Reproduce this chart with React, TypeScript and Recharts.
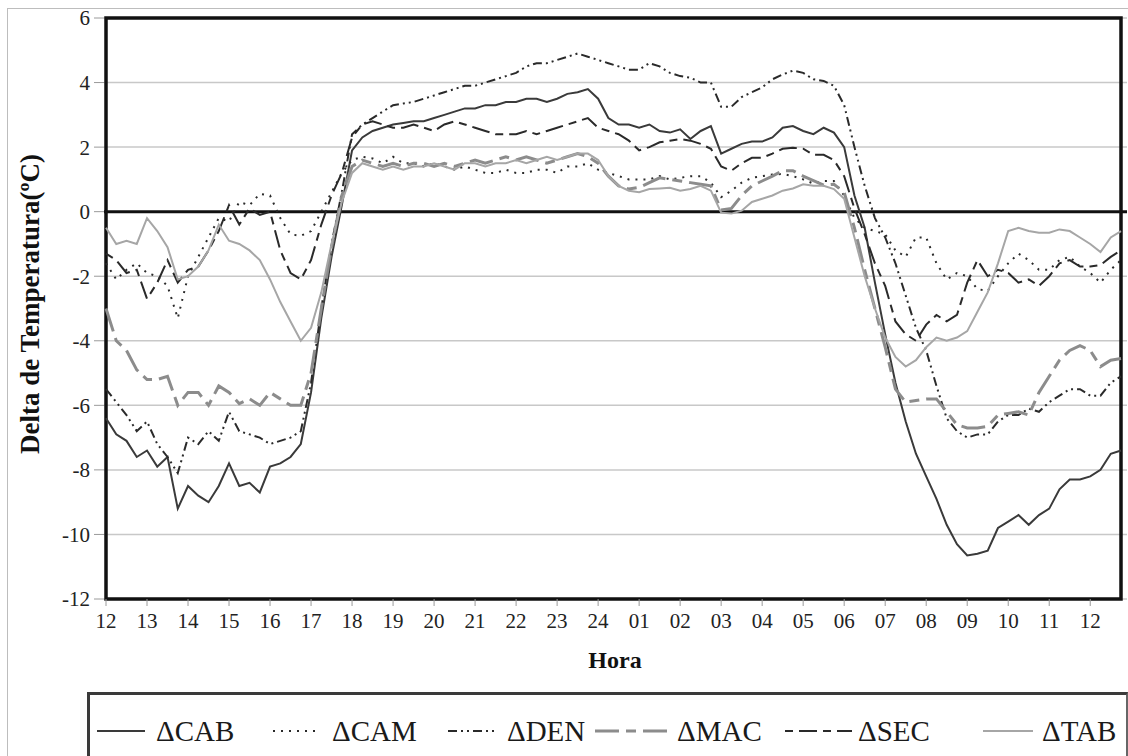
import React from 'react';
import {
  LineChart,
  Line,
  XAxis,
  YAxis,
  CartesianGrid,
  ReferenceLine,
  ReferenceArea,
} from 'recharts';

// hour tick labels (12h -> 12h next day) and quarter-hour steps
const hourLabels = ['12', '13', '14', '15', '16', '17', '18', '19', '20', '21', '22', '23', '24',
  '01', '02', '03', '04', '05', '06', '07', '08', '09', '10', '11', '12'];
const quarters = ['00', '15', '30', '45'];

const cab = [
  -6.4, -6.9, -7.1, -7.6, -7.4, -7.9, -7.6, -9.2, -8.5, -8.8, -9.0, -8.5, -7.8, -8.5, -8.4, -8.7, -7.9, -7.8, -7.6, -7.2, -5.6, -3.3, -1.4, 0.2,
  1.9, 2.3, 2.5, 2.6, 2.7, 2.75, 2.8, 2.8, 2.9, 3.0, 3.1, 3.2, 3.2, 3.3, 3.3, 3.4, 3.4, 3.5, 3.5, 3.4, 3.5, 3.65, 3.7, 3.8, 3.5, 2.9, 2.7, 2.7,
  2.6, 2.7, 2.5, 2.45, 2.55, 2.25, 2.5, 2.65, 1.8, 1.95, 2.1, 2.17, 2.17, 2.3, 2.6, 2.65, 2.5, 2.4, 2.6, 2.45,
  2.0, 0.5, -0.5, -2.2, -3.8, -5.3, -6.5, -7.5, -8.2, -8.9, -9.7, -10.3, -10.65, -10.6, -10.5, -9.8, -9.6, -9.4, -9.7, -9.4, -9.2, -8.6, -8.3, -8.3, -8.2, -8.0, -7.5, -7.4,
];
const cam = [
  -1.6, -2.1, -1.8, -1.6, -1.9, -2.0, -2.3, -3.3, -2.0, -1.4, -0.8, -0.2, -0.3, 0.3, 0.2, 0.55, 0.5, -0.2, -0.7, -0.75, -0.6, 0.0, 0.6, 1.2,
  1.6, 1.7, 1.65, 1.5, 1.7, 1.5, 1.5, 1.4, 1.5, 1.4, 1.3, 1.4, 1.3, 1.2, 1.2, 1.3, 1.2, 1.2, 1.3, 1.3, 1.2, 1.4, 1.4, 1.5, 1.3, 1.2, 1.1, 1.0,
  1.0, 1.0, 1.1, 1.0, 1.05, 1.1, 1.1, 0.9, 0.45, 0.65, 0.9, 1.05, 1.1, 1.15, 1.17, 1.1, 1.0, 0.87, 0.95, 0.95,
  0.5, -0.2, -0.5, -0.6, -0.7, -1.2, -1.4, -0.8, -0.8, -1.6, -2.1, -1.9, -2.0, -2.4, -2.45, -2.0, -1.6, -1.3, -1.5, -1.8, -1.8, -1.5, -1.4, -1.7, -1.9, -2.2, -1.8, -1.5,
];
const den = [
  -5.5, -5.9, -6.3, -6.8, -6.5, -7.2, -7.6, -8.1, -7.0, -7.2, -6.8, -7.1, -6.2, -6.8, -6.9, -7.0, -7.2, -7.1, -7.0, -6.8, -5.3, -3.0, -1.0, 0.6,
  2.4, 2.7, 2.9, 3.1, 3.3, 3.35, 3.4, 3.5, 3.6, 3.7, 3.8, 3.9, 3.9, 4.0, 4.1, 4.2, 4.3, 4.5, 4.6, 4.6, 4.7, 4.8, 4.9, 4.8, 4.7, 4.6, 4.5, 4.4,
  4.4, 4.6, 4.5, 4.3, 4.2, 4.15, 4.0, 4.0, 3.25, 3.25, 3.55, 3.7, 3.85, 4.1, 4.25, 4.37, 4.3, 4.1, 4.05, 3.9,
  3.3, 2.0, 0.8, -0.2, -0.8, -1.6, -2.6, -3.6, -4.3, -5.4, -6.4, -6.8, -7.0, -6.9, -6.9, -6.5, -6.3, -6.3, -6.1, -6.2, -5.9, -5.7, -5.5, -5.5, -5.7, -5.7, -5.3, -5.1,
];
const mac = [
  -3.0, -4.0, -4.3, -4.9, -5.2, -5.2, -5.1, -6.0, -5.6, -5.6, -6.0, -5.4, -5.6, -5.95, -5.8, -6.0, -5.6, -5.8, -6.0, -6.0, -5.0, -3.0, -1.1, 0.5,
  1.4, 1.6, 1.5, 1.4, 1.5, 1.4, 1.5, 1.5, 1.4, 1.5, 1.4, 1.5, 1.6, 1.5, 1.6, 1.7, 1.6, 1.7, 1.6, 1.5, 1.6, 1.7, 1.8, 1.7, 1.5, 1.1, 0.8, 0.7,
  0.75, 0.9, 1.05, 1.0, 0.95, 0.9, 0.85, 0.8, 0.05, 0.1, 0.5, 0.8, 0.95, 1.1, 1.27, 1.27, 1.1, 0.96, 0.82, 0.85,
  0.6, -0.5, -1.8, -3.0, -4.2, -5.5, -5.9, -5.85, -5.8, -5.8, -6.2, -6.6, -6.7, -6.7, -6.65, -6.3, -6.25, -6.2, -6.3, -5.6, -5.1, -4.6, -4.3, -4.15, -4.3, -4.8, -4.6, -4.55,
];
const sec = [
  -1.3, -1.5, -1.9, -1.8, -2.7, -2.2, -1.5, -2.2, -1.8, -1.7, -1.2, -0.6, 0.2, -0.4, 0.1, -0.1, 0.0, -1.2, -1.9, -2.1, -1.5, -0.4, 0.5, 1.2,
  2.3, 2.7, 2.8, 2.7, 2.6, 2.6, 2.7, 2.6, 2.5, 2.7, 2.8, 2.7, 2.6, 2.5, 2.4, 2.4, 2.4, 2.5, 2.4, 2.5, 2.6, 2.7, 2.8, 2.9, 2.6, 2.5, 2.4, 2.2,
  1.9, 2.0, 2.15, 2.2, 2.25, 2.2, 2.1, 1.95, 1.4, 1.27, 1.5, 1.67, 1.67, 1.8, 1.95, 1.98, 1.95, 1.76, 1.76, 1.6,
  1.1, 0.1, -0.7, -1.6, -2.3, -3.4, -3.8, -4.0, -3.5, -3.2, -3.4, -3.2, -2.2, -1.5, -2.0, -1.8, -1.9, -2.2, -2.1, -2.3, -2.0, -1.6, -1.5, -1.7, -1.7, -1.65, -1.4, -1.2,
];
const tab = [
  -0.5, -1.0, -0.9, -1.0, -0.2, -0.6, -1.1, -2.1, -2.0, -1.7, -1.2, -0.4, -0.9, -1.0, -1.2, -1.5, -2.1, -2.8, -3.4, -4.0, -3.6, -2.5, -1.0, 0.3,
  1.2, 1.5, 1.4, 1.3, 1.4, 1.3, 1.4, 1.4, 1.5, 1.4, 1.3, 1.5, 1.5, 1.4, 1.5, 1.5, 1.6, 1.5, 1.6, 1.7, 1.6, 1.7, 1.8, 1.8, 1.6, 1.1, 0.8, 0.65,
  0.6, 0.7, 0.72, 0.74, 0.65, 0.7, 0.8, 0.65, -0.03, -0.06, 0.03, 0.3, 0.4, 0.5, 0.65, 0.72, 0.85, 0.8, 0.8, 0.7,
  0.4, -0.8, -2.0, -3.0, -3.9, -4.5, -4.8, -4.6, -4.2, -3.9, -4.0, -3.9, -3.7, -3.1, -2.5, -1.6, -0.6, -0.5, -0.6, -0.65, -0.65, -0.55, -0.6, -0.8, -1.0, -1.25, -0.8, -0.6,
];

const yTicks = [-12, -10, -8, -6, -4, -2, 0, 2, 4, 6];

const series = [
  { key: 'CAB', values: cab, color: '#3a3a3a', width: 2, dash: undefined as string | undefined, legendX: 97, legendW: 48, textX: 156 },
  { key: 'CAM', values: cam, color: '#2a2a2a', width: 2, dash: '2 6', legendX: 273, legendW: 44, textX: 332 },
  { key: 'DEN', values: den, color: '#2a2a2a', width: 2, dash: '9 4 2 4 2 4', legendX: 448, legendW: 50, textX: 507 },
  { key: 'MAC', values: mac, color: '#8c8c8c', width: 3, dash: '24 7 10 7', legendX: 595, legendW: 73, textX: 677 },
  { key: 'SEC', values: sec, color: '#2a2a2a', width: 2, dash: '8 6 18 6', legendX: 785, legendW: 67, textX: 858 },
  { key: 'TAB', values: tab, color: '#a6a6a6', width: 2, dash: undefined, legendX: 983, legendW: 50, textX: 1042 },
];

const times = hourLabels.flatMap((h, i) => quarters.map((q) => `${i}:${q}`)).slice(0, cab.length);
const tickValues = hourLabels.map((h, i) => `${i}:00`);

const data = times.map((t, i) => {
  const row: Record<string, number | string> = { t };
  series.forEach((s) => { row[s.key] = s.values[i]; });
  return row;
});

const FONT = '"Liberation Serif", "Times New Roman", serif';

const YTitle = () => (
  <text
    x={30}
    y={304}
    transform="rotate(-90 30 304)"
    textAnchor="middle"
    dominantBaseline="central"
    fontFamily={FONT}
    fontWeight="bold"
    fontSize={27}
    fill="#111"
  >
    Delta de Temperatura(ºC)
  </text>
);

const XTitle = () => (
  <text x={615} y={660} textAnchor="middle" dominantBaseline="central" fontFamily={FONT} fontWeight="bold" fontSize={24} fill="#111">
    Hora
  </text>
);

export default function App() {
  return (
    <div style={{ position: 'absolute', left: 0, top: 0, width: 1128, height: 756, overflow: 'hidden', background: '#fff', fontFamily: FONT }}>
      <div style={{ position: 'absolute', left: 7, top: 8, width: 1200, height: 800, border: '1px solid #bdbdbd' }} />
      <div style={{ position: 'absolute', left: 0, top: 0 }}>
        <LineChart width={1128} height={756} data={data} margin={{ top: 18, right: 1, left: 44, bottom: 127 }}>
          <CartesianGrid vertical={false} stroke="#c8c8c8" strokeWidth={1.5} />
          <XAxis
            dataKey="t"
            type="category"
            ticks={tickValues}
            interval={0}
            padding={{ left: 2, right: 6 }}
            height={30}
            axisLine={false}
            tickLine={{ stroke: '#9a9a9a' }}
            tickSize={7}
            tickMargin={7}
            tick={{ fontSize: 21, fill: '#222', fontFamily: FONT }}
            tickFormatter={(v: string) => hourLabels[Number(v.split(':')[0])]}
            label={<XTitle />}
          />
          <YAxis
            domain={[-12, 6]}
            ticks={yTicks}
            width={60}
            axisLine={false}
            tickLine={{ stroke: '#9a9a9a' }}
            tickSize={10}
            tickMargin={4}
            tick={{ fontSize: 21, fill: '#222', fontFamily: FONT }}
            label={<YTitle />}
          />
          <ReferenceLine y={0} stroke="#111" strokeWidth={3} />
          {series.map((s) => (
            <Line
              key={s.key}
              type="linear"
              dataKey={s.key}
              stroke={s.color}
              strokeWidth={s.width}
              strokeDasharray={s.dash}
              dot={false}
              activeDot={false}
              isAnimationActive={false}
            />
          ))}
          <ReferenceArea y1={-12} y2={6} fill="none" fillOpacity={0} stroke="#111" strokeWidth={3.5} />
        </LineChart>
      </div>
      <div
        style={{
          position: 'absolute',
          left: 87,
          top: 692,
          width: 1036,
          height: 100,
          borderTop: '3px solid #3a3a3a',
          borderLeft: '3px solid #3a3a3a',
          borderRight: '2px solid #666',
        }}
      />
      {series.map((s) => (
        <React.Fragment key={s.key}>
          <svg style={{ position: 'absolute', left: s.legendX, top: 726 }} width={s.legendW} height={10}>
            <line x1={0} y1={5} x2={s.legendW} y2={5} stroke={s.color} strokeWidth={s.width} strokeDasharray={s.dash} />
          </svg>
          <div style={{ position: 'absolute', left: s.textX, top: 713, fontSize: 29, lineHeight: '36px', color: '#1a1a1a', whiteSpace: 'nowrap' }}>
            {'\u0394' + s.key}
          </div>
        </React.Fragment>
      ))}
    </div>
  );
}
